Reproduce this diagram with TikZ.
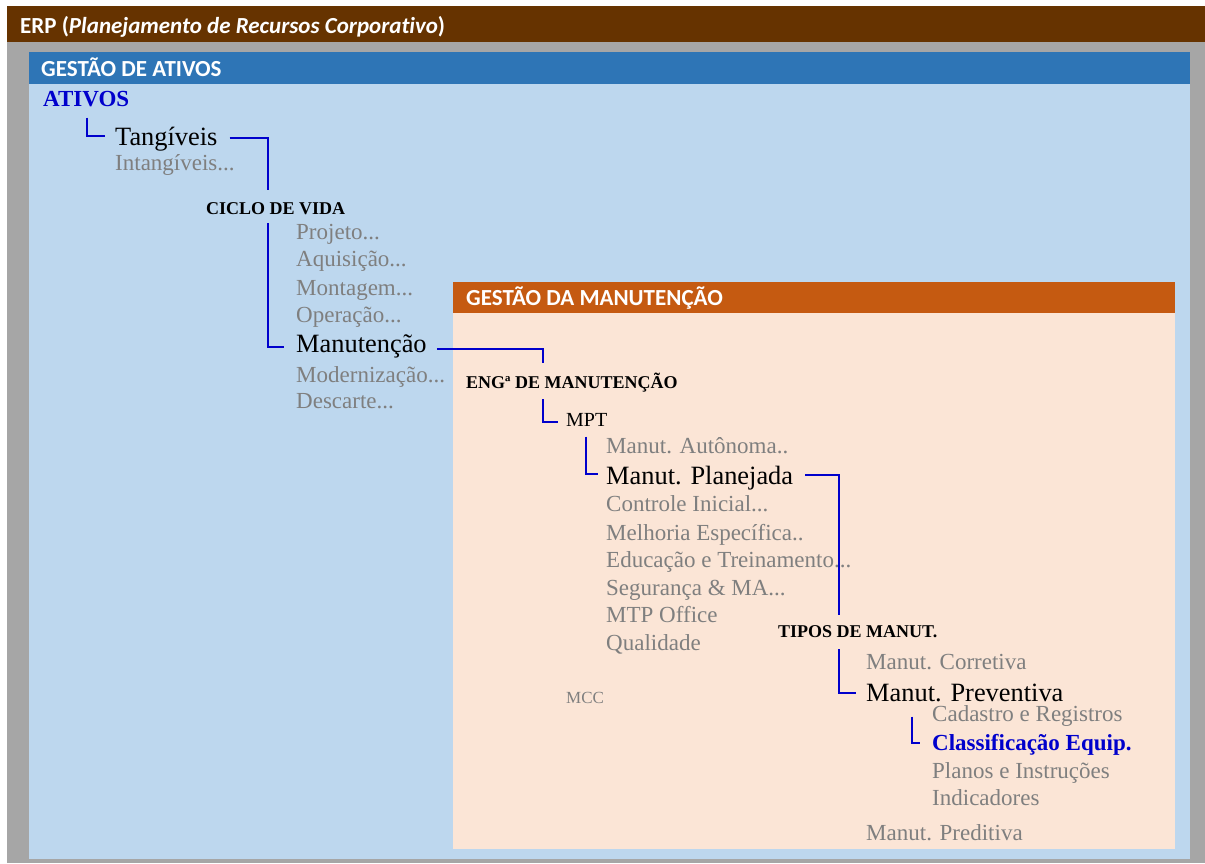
\documentclass[tikz,border=0pt]{standalone}
\usepackage{fontspec}
\setmainfont{Liberation Serif}
\newfontfamily\hdrfont[RawFeature=-liga]{Carlito}
\usetikzlibrary{calc,positioning}
\definecolor{Brown}{HTML}{663300}
\definecolor{Frame}{HTML}{A6A6A6}
\definecolor{BlueBar}{HTML}{2E75B6}
\definecolor{BluePale}{HTML}{BDD7EE}
\definecolor{Rust}{HTML}{C55A11}
\definecolor{Peach}{HTML}{FBE5D6}
\definecolor{Grey}{HTML}{7F7F7F}
\definecolor{Link}{HTML}{0000CC}
\tikzset{
  hdr/.style={anchor=base west,inner sep=0pt,text=white,font=\hdrfont\bfseries\fontsize{23}{27}\selectfont},
  item/.style={anchor=base west,inner sep=0pt,text=Grey,font=\fontsize{23}{27}\selectfont},
  key/.style={anchor=base west,inner sep=0pt,text=black,font=\fontsize{26.4}{30}\selectfont},
  lvl/.style={anchor=base west,inner sep=0pt,text=black,font=\bfseries\fontsize{18}{22}\selectfont},
  sel/.style={anchor=base west,inner sep=0pt,text=Link,font=\bfseries\fontsize{23}{27}\selectfont},
  link/.style={draw=Link,line width=2pt}
}
\begin{document}
\begin{tikzpicture}[x=1pt,y=-1pt]
  \useasboundingbox (0,0) rectangle (1205,863);
  % frame and panels
  \fill[white] (0,0) rectangle (1205,863);
  \fill[Frame] (7,42) rectangle (1205,863);
  \fill[Brown] (7,6) rectangle (1205,42);
  \fill[BluePale] (29,84) rectangle (1190,859);
  \fill[BlueBar] (29,52) rectangle (1190,84);
  \fill[Peach] (453,313) rectangle (1175,849);
  \fill[Rust] (453,282) rectangle (1175,313);

  \node[hdr] (erp) at (20,33) {ERP (\textit{Planejamento de Recursos Corporativo})};
  \node[hdr] (gat) at (41,76) {GESTÃO DE ATIVOS};
  \node[hdr] (gman) at (466,305) {GESTÃO DA MANUTENÇÃO};

  % gestao de ativos
  \node[sel] (ativos) at (43,106.7) {ATIVOS};
  \node[key] (tang) at (115,145) {Tangíveis};
  \node[item] (intang) at (115,170.7) {Intangíveis...};
  \node[lvl] (ciclo) at (206,214.3) {CICLO DE VIDA};
  \node[item] (proj) at (296,239.3) {Projeto...};
  \node[item] (aquis) at (296,266.7) {Aquisição...};
  \node[item] (mont) at (296,295) {Montagem...};
  \node[item] (oper) at (296,322.3) {Operação...};
  \node[key] (manut) at (296,352.7) {Manutenção};
  \node[item] (moder) at (296,382.7) {Modernização...};
  \node[item] (desc) at (296,408.3) {Descarte...};

  % gestao da manutencao
  \node[lvl] (eng) at (466,388.3) {ENGª DE MANUTENÇÃO};
  \node[key,font=\fontsize{20}{24}\selectfont] (mpt) at (566,426.7) {MPT};
  \node[item] (auton) at (606,453.3) {Manut. Autônoma..};
  \node[key] (plan) at (606,484) {Manut. Planejada};
  \node[item] (ctrl) at (606,511.7) {Controle Inicial...};
  \node[item] (melh) at (606,540) {Melhoria Específica..};
  \node[item] (educ) at (606,567) {Educação e Treinamento...};
  \node[item] (segur) at (606,595.7) {Segurança \& MA...};
  \node[item] (office) at (606,622.3) {MTP Office};
  \node[item] (qual) at (606,650) {Qualidade};
  \node[item,font=\fontsize{17}{20}\selectfont] (mcc) at (566,703) {MCC};
  \node[lvl] (tipos) at (778,637.3) {TIPOS DE MANUT.};
  \node[item] (corr) at (866,669.3) {Manut. Corretiva};
  \node[key] (prev) at (866,701) {Manut. Preventiva};
  \node[item] (cad) at (932,721.7) {Cadastro e Registros};
  \node[sel] (classif) at (932,750) {Classificação Equip.};
  \node[item] (planos) at (932,778.3) {Planos e Instruções};
  \node[item] (indic) at (932,805.7) {Indicadores};
  \node[item] (pred) at (866,840) {Manut. Preditiva};

  % connectors
  \draw[link] ($(tang.base west |- ativos.base)+(-28,11)$) |- ($(tang.base west)+(-10,-9)$);
  \draw[link] ($(tang.base east)+(12,-7)$) -| ($(manut.base west |- ciclo.base)+(-28,-24)$);
  \draw[link] ($(manut.base west |- ciclo.base)+(-28,9)$) |- ($(manut.base west)+(-12,-6)$);
  \draw[link] ($(manut.base east)+(10,-4)$) -| ($(mpt.base west |- eng.base)+(-23,-25)$);
  \draw[link] ($(mpt.base west |- eng.base)+(-23,11)$) |- ($(mpt.base west)+(-8,-5)$);
  \draw[link] ($(plan.base west |- mpt.base)+(-20,10)$) |- ($(plan.base west)+(-8,-10)$);
  \draw[link] ($(plan.base east)+(12,-9)$) -| ($(prev.base west |- tipos.base)+(-27,-22)$);
  \draw[link] ($(prev.base west |- tipos.base)+(-27,12)$) |- ($(prev.base west)+(-10,-8)$);
  \draw[link] ($(classif.base west |- cad.base)+(-20,-5)$) |- ($(classif.base west)+(-12,-7)$);
\end{tikzpicture}
\end{document}
